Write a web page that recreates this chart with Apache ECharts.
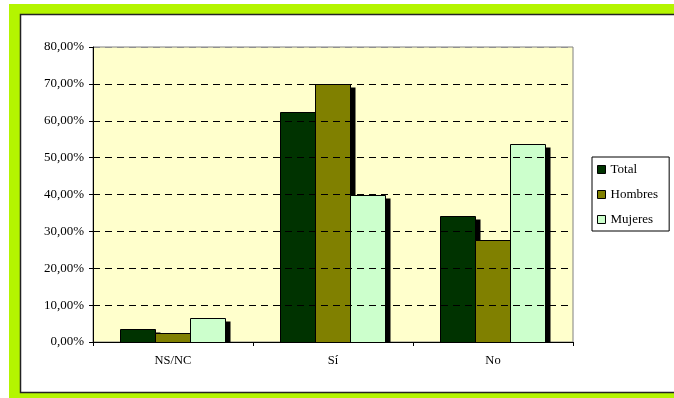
<!DOCTYPE html>
<html>
<head>
<meta charset="utf-8">
<script src="https://cdn.jsdelivr.net/npm/echarts@6/dist/echarts.min.js"></script>
<style>
html,body{margin:0;padding:0;background:#fff;}
#chart{width:674px;height:398px;}
</style>
</head>
<body>
<div id="chart"></div>
<script>
const categories = ['NS/NC', 'Sí', 'No'];
const seriesNames = ['Total', 'Hombres', 'Mujeres'];
const totalValues = [3.6, 62.5, 34.3];
const hombresValues = [2.5, 70.1, 27.6];
const mujeresValues = [6.6, 39.9, 53.7];
const yTickLabels = ['0,00%', '10,00%', '20,00%', '30,00%', '40,00%', '50,00%', '60,00%', '70,00%', '80,00%'];
const colors = ['#003300', '#808000', '#ccffcc'];

const serif = '"Liberation Serif", "DejaVu Serif", serif';
const chart = echarts.init(document.getElementById('chart'), null, {renderer: 'canvas'});

const BAR_W = 35, SH_X = 5, SH_Y = 3;

function barSeries(idx, name, values, color) {
  return {
    name: name,
    type: 'custom',
    coordinateSystem: 'cartesian2d',
    data: values.map(function (v, i) { return [i, v]; }),
    encode: {x: 0, y: 1},
    itemStyle: {color: color, borderColor: '#000', borderWidth: 1},
    renderItem: function (params, api) {
      const top = api.coord([api.value(0), api.value(1)]);
      const base = api.coord([api.value(0), 0]);
      const x = Math.round(top[0] - 1 + (idx - 1) * BAR_W - BAR_W / 2) + 0.5;
      const yTop = Math.round(top[1]) + 0.5;
      const yBase = Math.round(base[1]) + 0.5;
      const h = yBase - yTop;
      return {
        type: 'group',
        children: [
          {type: 'rect', shape: {x: x + SH_X, y: yTop + SH_Y, width: BAR_W, height: Math.max(0, h - SH_Y)}, style: {fill: '#000'}},
          {type: 'rect', shape: {x: x, y: yTop, width: BAR_W, height: h}, style: {fill: color, stroke: '#000', lineWidth: 1}}
        ]
      };
    },
    emphasis: {disabled: true},
    animation: false
  };
}

chart.setOption({
  animation: false,
  backgroundColor: '#ffffff',
  graphic: {
    elements: [
      {type: 'rect', z: -10, silent: true, shape: {x: 9, y: 4, width: 680, height: 400}, style: {fill: '#b4f500'}},
      {type: 'rect', z: -9, silent: true, shape: {x: 20.5, y: 14.5, width: 680, height: 378}, style: {fill: '#ffffff', stroke: '#222222', lineWidth: 1.5}}
    ]
  },
  grid: {
    left: 93, right: 101, top: 47, bottom: 56,
    show: true,
    backgroundColor: '#ffffcc',
    borderColor: '#808080',
    borderWidth: 1
  },
  legend: {
    data: seriesNames,
    orient: 'vertical',
    left: 592,
    top: 157,
    itemWidth: 8,
    itemHeight: 8,
    itemGap: 12,
    icon: 'rect',
    padding: [6, 11, 5, 5],
    borderColor: '#000',
    borderWidth: 1,
    backgroundColor: '#fff',
    textStyle: {fontFamily: serif, fontSize: 13, color: '#000'},
    itemStyle: {borderColor: '#000', borderWidth: 1}
  },
  xAxis: {
    type: 'category',
    data: categories,
    z: 5,
    axisLine: {lineStyle: {color: '#000', width: 1}},
    axisTick: {show: true, length: 4, lineStyle: {color: '#000'}},
    axisLabel: {fontFamily: serif, fontSize: 12.5, color: '#000', margin: 12},
    splitLine: {show: false}
  },
  yAxis: {
    type: 'value',
    min: 0,
    max: 80,
    interval: 10,
    z: 5,
    axisLine: {show: true, lineStyle: {color: '#000', width: 1}},
    axisTick: {show: true, length: 4, lineStyle: {color: '#000'}},
    axisLabel: {
      fontFamily: serif, fontSize: 13, color: '#000', margin: 9,
      formatter: function (v) { return yTickLabels[Math.round(v / 10)]; }
    },
    splitLine: {show: true, lineStyle: {color: ['#000', '#000', '#000', '#000', '#000', '#000', '#000', '#000', '#909090'], type: [7, 5], width: 1}}
  },
  series: [
    barSeries(0, seriesNames[0], totalValues, colors[0]),
    barSeries(1, seriesNames[1], hombresValues, colors[1]),
    barSeries(2, seriesNames[2], mujeresValues, colors[2])
  ]
});
</script>
</body>
</html>
